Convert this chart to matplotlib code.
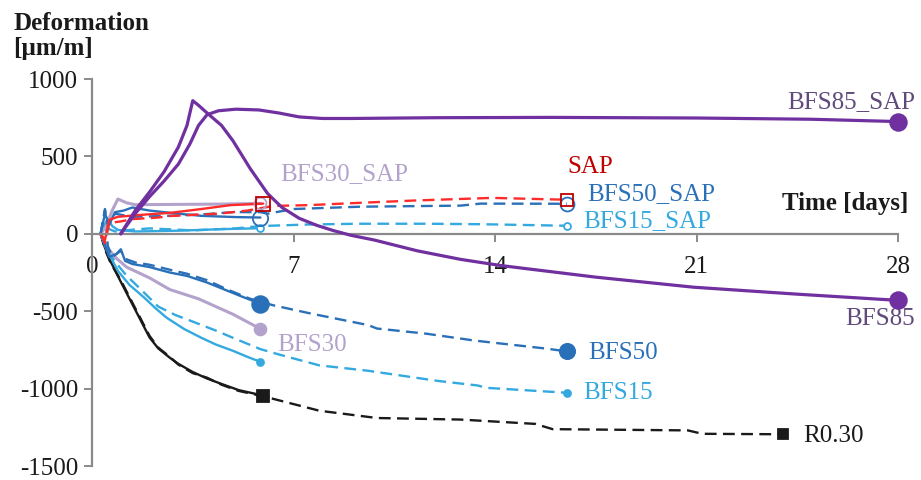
import numpy as np
import matplotlib
matplotlib.use('Agg')
import matplotlib.pyplot as plt

plt.rcParams['font.family'] = ['Liberation Serif', 'DejaVu Serif']
plt.rcParams['axes.unicode_minus'] = False

#%% data (days, deformation um/m)
# R0.30
r030_d = [0.3, 0.45, 0.65, 1.0, 1.5, 2.0, 2.3, 2.7, 3.0, 3.5, 4.0, 4.5, 5.1, 5.95]
r030_v = [0, -90, -180, -310, -490, -670, -740, -800, -840, -893, -935, -970, -1010, -1045]
r030l_d = [0.3, 0.45, 0.65, 1.0, 1.5, 2.0, 2.3, 2.7, 3.0, 3.5, 4.0, 4.5, 5.1, 6.0, 7.0, 7.9, 9.9, 12.8, 15.4, 16.0, 20.7, 21.2, 24.0]
r030l_v = [0, -100, -190, -300, -480, -660, -735, -795, -845, -900, -930, -975, -1015, -1052, -1100, -1143, -1190, -1200, -1228, -1262, -1270, -1292, -1295]

# BFS50
b50_d = [0.3, 0.45, 0.6, 0.85, 1.0, 1.15, 1.4, 2.0, 2.7, 3.3, 4.0, 4.6, 5.2, 5.85]
b50_v = [0, -70, -150, -130, -100, -175, -195, -215, -250, -272, -315, -360, -405, -452]
b50l_d = [0.3, 0.45, 0.55, 0.7, 1.0, 1.2, 1.5, 2.0, 2.7, 3.3, 4.0, 4.7, 5.5, 6.3, 7.6, 9.6, 9.9, 11.6, 13.3, 15.8, 16.5]
b50l_v = [0, 150, -80, -150, -110, -165, -185, -200, -232, -258, -300, -360, -420, -462, -515, -590, -612, -645, -690, -742, -760]

# BFS30
b30_d = [0.3, 0.5, 0.8, 1.2, 2.0, 2.7, 3.7, 4.9, 5.85]
b30_v = [0, -80, -150, -215, -285, -360, -420, -520, -614]

# BFS15
b15_d = [0.3, 0.5, 0.9, 1.3, 1.8, 2.2, 2.6, 3.2, 3.8, 4.3, 4.9, 5.4, 5.85]
b15_v = [0, -100, -240, -330, -410, -480, -543, -615, -672, -715, -756, -795, -827]
b15l_d = [0.3, 0.5, 0.8, 1.2, 1.7, 2.3, 2.9, 3.4, 4.3, 5.0, 5.85, 6.5, 7.9, 9.6, 12.0, 13.4, 13.7, 16.5]
b15l_v = [0, -90, -180, -270, -360, -470, -525, -560, -625, -680, -745, -780, -850, -885, -950, -980, -995, -1027]

# SAP
sap_d = [0.3, 0.45, 0.6, 0.9, 1.9, 2.7, 3.8, 4.8, 5.95]
sap_v = [0, -40, 90, 110, 125, 135, 160, 185, 195]
sapl_d = [0.3, 0.45, 0.6, 1.0, 1.4, 2.3, 2.7, 4.4, 5.4, 6.3, 7.5, 9.3, 11.2, 13.9, 16.5]
sapl_v = [0, -60, 70, 80, 95, 105, 115, 130, 150, 180, 185, 200, 215, 232, 220]

# BFS50_SAP
b50s_d = [0.3, 0.45, 0.6, 0.8, 1.1, 1.4, 2.0, 3.0, 3.8, 5.0, 5.85]
b50s_v = [0, 130, 60, 140, 150, 170, 150, 130, 116, 108, 105]
b50sl_d = [0.3, 0.45, 0.55, 0.8, 1.1, 1.5, 2.5, 3.8, 4.9, 5.85, 6.1, 7.0, 9.3, 12.8, 13.5, 16.5]
b50sl_v = [0, 160, 50, 130, 120, 110, 115, 125, 140, 140, 130, 160, 175, 182, 195, 194]

# BFS15_SAP
b15s_d = [0.3, 0.45, 0.55, 0.7, 0.9, 1.5, 3.0, 4.5, 5.85]
b15s_v = [0, 60, 100, 50, 25, 15, 20, 30, 36]
b15sl_d = [0.3, 0.45, 0.6, 0.8, 1.0, 2.0, 3.5, 5.0, 5.85, 7.5, 9.3, 11.6, 13.5, 16.5]
b15sl_v = [0, 80, 30, 15, 20, 35, 22, 35, 50, 60, 65, 65, 62, 52]

# BFS30_SAP
b30s_d = [0.3, 0.5, 0.7, 0.9, 1.2, 1.5, 3.0, 4.5, 5.85]
b30s_v = [0, 50, 150, 225, 200, 188, 190, 192, 196]

# BFS85 / BFS85_SAP
b85_d = [1.0, 1.5, 2.0, 2.5, 3.0, 3.3, 3.5, 3.7, 4.0, 4.5, 4.9, 5.5, 6.1, 6.6, 7.2, 7.8, 8.4, 9.0, 9.8, 11.3, 12.8, 14.2, 17.5, 20.9, 24.5, 28]
b85_v = [0, 150, 270, 400, 560, 700, 860, 830, 780, 700, 600, 420, 260, 170, 100, 55, 20, -10, -40, -110, -165, -205, -280, -345, -390, -430]
b85s_d = [1.0, 1.5, 2.0, 2.5, 3.0, 3.4, 3.7, 4.0, 4.4, 5.0, 5.8, 6.5, 7.2, 8.0, 9.0, 12, 16, 21, 25, 28]
b85s_v = [0, 130, 240, 340, 450, 580, 700, 770, 795, 805, 800, 780, 755, 745, 745, 750, 752, 748, 740, 725]

xticks = [0, 7, 14, 21, 28]
yticks = [-1500, -1000, -500, 0, 500, 1000]

#%% colours
c_purple = '#7030A0'
c_purple_txt = '#5F4A7B'
c_dblue = '#2A70B8'
c_lblue = '#33A9E0'
c_lav = '#B3A3CC'
c_red = '#FF2B2B'
c_dred = '#C00000'
c_black = '#1A1A1A'
c_grey = '#8A8A8A'

dash = (5, 2.7)

fig = plt.figure(figsize=(9.21, 4.8), dpi=100)
ax = fig.add_axes([92/921, 14/480, 806/921, 387/480])

def line(d, v, c, ls='-', lw=1.7, mk=None, ms=8, mfc=None, mec=None, z=2):
    l, = ax.plot(d, v, color=c, lw=lw, zorder=z, solid_capstyle='round', solid_joinstyle='round')
    if ls == '--':
        l.set_dashes(dash)
    if mk is not None:
        ax.plot(d[-1], v[-1], marker=mk, ms=ms, mfc=mfc if mfc else c,
                mec=mec if mec else c, mew=1.3, zorder=z + 5, ls='none', clip_on=False)

# negative group
line(r030l_d, r030l_v, c_black, '--', mk='s', ms=7.5)
line(r030_d, r030_v, c_black, '-', mk='s', ms=8.5)
line(b15l_d, b15l_v, c_lblue, '--', mk='o', ms=5)
line(b15_d, b15_v, c_lblue, '-', mk='o', ms=5)
line(b30_d, b30_v, c_lav, '-', lw=2.2, mk='o', ms=8.5)
line(b50l_d, b50l_v, c_dblue, '--', mk='o', ms=11)
line(b50_d, b50_v, c_dblue, '-', mk='o', ms=12)

# SAP group
line(b15sl_d, b15sl_v, c_lblue, '--', mk='o', ms=5, mfc='white')
line(b15s_d, b15s_v, c_lblue, '-', mk='o', ms=5, mfc='white')
line(b30s_d, b30s_v, c_lav, '-', lw=2.2, mk='o', ms=8.5, mfc='none')
line(b50sl_d, b50sl_v, c_dblue, '--', mk='o', ms=10, mfc='none')
line(b50s_d, b50s_v, c_dblue, '-', mk='o', ms=11, mfc='none')
line(sapl_d, sapl_v, c_red, '--', mk='s', ms=9, mfc='none', mec=c_dred)
line(sap_d, sap_v, c_red, '-', mk='s', ms=9.5, mfc='none', mec=c_dred)

# BFS85
line(b85_d, b85_v, c_purple, '-', lw=2.3, mk='o', ms=12, z=4)
line(b85s_d, b85s_v, c_purple, '-', lw=2.3, mk='o', ms=12, z=4)

#%% axes styling
ax.set_xlim(0, 28)
ax.set_ylim(-1500, 1000)
ax.set_xticks(xticks)
ax.set_yticks(yticks)
ax.spines['top'].set_visible(False)
ax.spines['right'].set_visible(False)
ax.spines['bottom'].set_position(('data', 0))
for s in ['left', 'bottom']:
    ax.spines[s].set_color(c_grey)
    ax.spines[s].set_linewidth(1.6)
ax.tick_params(axis='both', colors=c_grey, width=1.4, length=6, direction='out', labelsize=18, labelcolor='#1A1A1A')
ax.tick_params(axis='x', pad=10)
ax.tick_params(axis='y', pad=4)
ax.set_facecolor('none')

#%% labels
fs = 18
kw = dict(fontsize=fs, va='center', clip_on=False)
ax.text(28.6, 853, 'BFS85_SAP', color=c_purple_txt, ha='right', **kw)
ax.text(28.6, -549, 'BFS85', color=c_purple_txt, ha='right', **kw)
ax.text(6.54, 388, 'BFS30_SAP', color=c_lav, ha='left', **kw)
ax.text(16.52, 433, 'SAP', color=c_dred, ha='left', **kw)
ax.text(17.2, 258, 'BFS50_SAP', color=c_dblue, ha='left', **kw)
ax.text(17.08, 84, 'BFS15_SAP', color=c_lblue, ha='left', **kw)
ax.text(6.43, -717, 'BFS30', color=c_lav, ha='left', **kw)
ax.text(17.25, -769, 'BFS50', color=c_dblue, ha='left', **kw)
ax.text(17.08, -1027, 'BFS15', color=c_lblue, ha='left', **kw)
ax.text(24.7, -1305, 'R0.30', color=c_black, ha='left', **kw)
ax.text(28.35, 194, 'Time [days]', color=c_black, ha='right', fontweight='bold', **kw)

fig.text(13/921, 1 - 12/480, 'Deformation\n[µm/m]', fontsize=18, fontweight='bold',
         ha='left', va='top', linespacing=1.1, color=c_black)

fig.savefig('out.png', dpi=100)
